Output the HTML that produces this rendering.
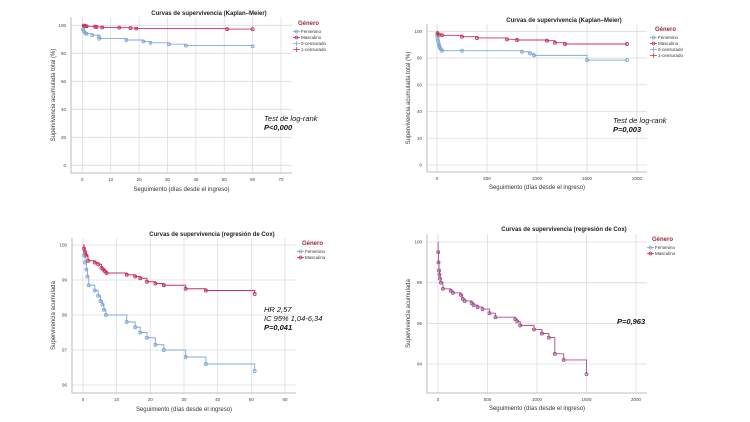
<!DOCTYPE html>
<html><head><meta charset="utf-8"><style>
html,body{margin:0;padding:0;background:#fff;width:750px;height:422px;overflow:hidden}
svg{display:block;font-family:"Liberation Sans",sans-serif}
</style></head><body>
<svg id="fig" width="750" height="422"></svg>
<script>
// Panel 1 KM (days 0-70)
const p1FemT=[0,0.3,0.5,1,1.5,3.5,5.8,6,15.5,21.5,24,30.5,36.5,60];
const p1FemS=[100,97,96,94.5,94,93,92,90.5,89.5,88.5,87.5,86.5,85.5,85];
const p1MalT=[0,0.5,1,1.5,4.5,5,7,13,17,19,51,60];
const p1MalS=[100,99.8,99.5,99.3,99,98.8,98.5,98.3,98,97.7,97.3,97.2];
const p1XTicks=[0,10,20,30,40,50,60,70];
const p1YTicks=[0,20,40,60,80,100];
// Panel 2 KM (days 0-2000)
const p2FemT=[0,3,6,10,15,20,25,30,40,50,250,850,930,970,1500,1900];
const p2FemS=[100,97,95,93,91,89.5,88.5,87.5,86.5,85.5,85.5,84.7,83.5,82,78.5,78.5];
const p2MalT=[0,5,20,50,250,400,700,800,1100,1180,1280,1900];
const p2MalS=[100,98.5,97.5,97,96,95,94,93.5,93,91.5,90.5,90.5];
const p2XTicks=[0,500,1000,1500,2000];
const p2YTicks=[0,20,40,60,80,100];
// Panel 3 Cox (days 0-60)
const p3FemT=[0,0.3,0.6,1,1.3,1.7,3.5,4.5,5.2,5.8,6.2,6.8,13,15.5,17,19,21.5,24,30.5,36.5,51];
const p3FemS=[100,99.7,99.5,99.3,99.1,98.85,98.7,98.55,98.4,98.3,98.15,98,97.8,97.65,97.5,97.35,97.15,97,96.8,96.6,96.4];
const p3MalT=[0,0.3,0.6,1,1.5,3.5,4.5,5.5,6,6.5,7,13,15.5,17,19,21.5,24,30.5,36.5,51];
const p3MalS=[100,99.9,99.8,99.7,99.55,99.5,99.45,99.35,99.3,99.25,99.2,99.15,99.1,99.05,98.95,98.9,98.85,98.75,98.7,98.6];
const p3XTicks=[0,10,20,30,40,50,60];
const p3YTicks=[96,97,98,99,100];
// Panel 4 Cox (days 0-2000)
const p4T=[0,2,5,10,15,20,30,50,130,150,230,250,270,340,360,400,450,520,580,780,800,830,970,1050,1120,1180,1270,1500];
const p4S=[100,99.5,99,98.6,98.4,98.2,98,97.7,97.6,97.5,97.4,97.2,97.1,97,96.9,96.8,96.7,96.5,96.3,96.2,96.1,95.9,95.7,95.5,95.3,94.5,94.2,93.5];
const p4XTicks=[0,500,1000,1500,2000];
const p4YTicks=[94,96,98,100];

const NS='http://www.w3.org/2000/svg';
const svg=document.getElementById('fig');
function el(tag,attrs,parent,txt){const e=document.createElementNS(NS,tag);for(const k in attrs)e.setAttribute(k,attrs[k]);if(txt!==undefined)e.textContent=txt;(parent||svg).appendChild(e);return e;}
const FEM='#7fa9d8',MAL='#c7355b',MIX='#a4508a';

function panel(c){
  const g=el('g',{});
  
  
  const sx=v=>c.x0+(v-c.xa)*(c.x1-c.x0)/(c.xb-c.xa);
  const sy=v=>c.y0+(v-c.ya)*(c.y1-c.y0)/(c.yb-c.ya);
  c.xt.forEach(t=>{const l=el('line',{x1:sx(t),x2:sx(t),y1:c.top,y2:c.bot,stroke:'#dcdcdc','stroke-width':0.8},g);
    const tx=el('text',{x:sx(t),y:c.bot+8,'font-size':4.5,'text-anchor':'middle',fill:'#444'},g,t);});
  c.yt.forEach(t=>{const l=el('line',{x1:c.left,x2:c.right,y1:sy(t),y2:sy(t),stroke:'#dcdcdc','stroke-width':0.8},g);
    const tx=el('text',{x:c.left-5,y:sy(t)+1.5,'font-size':4.5,'text-anchor':'end',fill:'#444'},g,t);});
  const ax=el('path',{d:`M${c.left},${c.top}V${c.bot}H${c.right}`,stroke:'#aaa','stroke-width':0.8,fill:'none'},g);
  
  c.series.forEach(s=>{
    let d=`M${sx(s.t[0])},${sy(s.s[0])}`;
    for(let i=1;i<s.t.length;i++){d+=`H${sx(s.t[i])}V${sy(s.s[i])}`;}
    const p=el('path',{d,stroke:s.col,'stroke-width':0.9,fill:'none'},g);
    
    for(let i=1;i<s.t.length;i++){
      const m=el('circle',{cx:sx(s.t[i]),cy:sy(s.s[i]),r:1.5,fill:'none',stroke:s.col,'stroke-width':0.9},g);
      
    }
  });
  const ti=el('text',{x:c.tx,y:c.ty,'font-size':6,'font-weight':'bold','text-anchor':'middle',fill:'#222'},g,c.title);
  
  const xl=el('text',{x:(c.left+c.right)/2,y:c.xly,'font-size':6,'text-anchor':'middle',fill:'#333'},g,'Seguimiento (días desde el ingreso)');
  
  const yl=el('text',{x:0,y:0,'font-size':6,'text-anchor':'middle',fill:'#333',transform:`translate(${c.ylx},${(c.top+c.bot)/2}) rotate(-90)`},g,c.ylab);
  
  const lg=el('text',{x:c.lx+5,y:c.ly,'font-size':6,'font-weight':'bold',fill:'#a3263b'},g,'Género');
  
  c.leg.forEach((L,i)=>{
    const y=c.ly+8+i*6;
    const sym=el('line',{x1:c.lx,x2:c.lx+7,y1:y-1.5,y2:y-1.5,stroke:L.col,'stroke-width':0.8},g);
    
    if(L.circ){const cc=el('circle',{cx:c.lx+3.5,cy:y-1.5,r:1.5,fill:'none',stroke:L.col,'stroke-width':0.8},g);}
    else{const v=el('line',{x1:c.lx+3.5,x2:c.lx+3.5,y1:y-4,y2:y+1,stroke:L.col,'stroke-width':0.8},g);}
    const t=el('text',{x:c.lx+8,y,'font-size':4.5,fill:'#333'},g,L.txt);
    
  });
  c.ann.forEach(a=>{const t=el('text',{x:a.x,y:a.y,'font-size':7.5,'font-style':'italic','font-weight':a.b?'bold':'normal',fill:'#111'},g,a.t);
    });
}
const leg4=[{txt:'Femenino',col:FEM,circ:1},{txt:'Masculino',col:MAL,circ:1},{txt:'0-censurado',col:FEM},{txt:'1-censurado',col:MAL}];
const leg2=[{txt:'Femenino',col:FEM,circ:1},{txt:'Masculino',col:MAL,circ:1}];
panel({name:'km-panel-60d',left:71,right:292,top:17,bot:173,xa:0,xb:70,x0:82.3,x1:281,ya:0,yb:100,y0:165.3,y1:25.3,
  xt:p1XTicks,yt:p1YTicks,series:[{t:p1FemT,s:p1FemS,col:FEM,name:'femenino'},{t:p1MalT,s:p1MalS,col:MAL,name:'masculino'}],
  title:'Curvas de supervivencia (Kaplan–Meier)',tx:209,ty:15,xly:191,ylx:55,ylab:'Supervivencia acumulada total (%)',
  lx:293,ly:25,leg:leg4,ann:[{x:264,y:121,t:'Test de log-rank'},{x:264,y:130,t:'P<0,000',b:1}]});
panel({name:'km-panel-2000d',left:427,right:647,top:24,bot:172,xa:0,xb:2000,x0:437,x1:637,ya:0,yb:100,y0:165,y1:31.3,
  xt:p2XTicks,yt:p2YTicks,series:[{t:p2FemT,s:p2FemS,col:FEM,name:'femenino'},{t:p2MalT,s:p2MalS,col:MAL,name:'masculino'}],
  title:'Curvas de supervivencia (Kaplan–Meier)',tx:564,ty:22,xly:189,ylx:410,ylab:'Supervivencia acumulada total (%)',
  lx:650,ly:31,leg:leg4,ann:[{x:613,y:123,t:'Test de log-rank'},{x:613,y:132,t:'P=0,003',b:1}]});
panel({name:'cox-panel-60d',left:72,right:296,top:238,bot:393,xa:0,xb:60,x0:83,x1:285,ya:96,yb:100,y0:385,y1:245,
  xt:p3XTicks,yt:p3YTicks,series:[{t:p3FemT,s:p3FemS,col:FEM,name:'femenino'},{t:p3MalT,s:p3MalS,col:MAL,name:'masculino'}],
  title:'Curvas de supervivencia (regresión de Cox)',tx:212,ty:236,xly:411,ylx:55,ylab:'Supervivencia acumulada',
  lx:297,ly:245,leg:leg2,ann:[{x:264,y:312,t:'HR 2,57'},{x:264,y:321,t:'IC 95% 1,04-6,34'},{x:264,y:330,t:'P=0,041',b:1}]});
panel({name:'cox-panel-2000d',left:427,right:647,top:234,bot:393,xa:0,xb:2000,x0:438,x1:636,ya:94,yb:100,y0:364,y1:242,
  xt:p4XTicks,yt:p4YTicks,series:[{t:p4T,s:p4S,col:MIX,name:'combinado'}],
  title:'Curvas de supervivencia (regresión de Cox)',tx:564,ty:231,xly:410,ylx:410,ylab:'Supervivencia acumulada',
  lx:647,ly:241,leg:leg2,ann:[{x:617,y:324,t:'P=0,963',b:1}]});
</script>
</body></html>
